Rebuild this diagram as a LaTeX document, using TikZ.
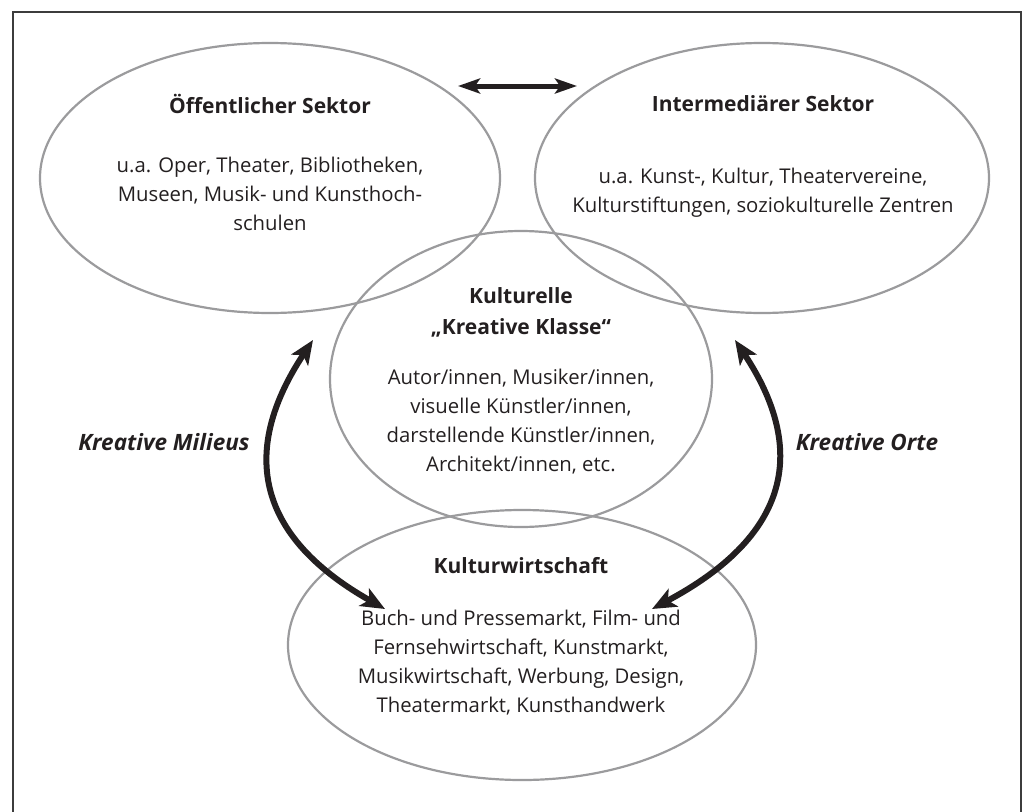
\documentclass[tikz,border=0pt]{standalone}
\usepackage{fontspec}
\setmainfont{Open Sans}
\usetikzlibrary{shapes.geometric,arrows.meta}
\definecolor{ink}{HTML}{231F20}
\definecolor{ring}{HTML}{9B9B9D}
\definecolor{rim}{HTML}{3C3C3C}
\begin{document}
\begin{tikzpicture}[x=1pt,y=-1pt,
  sector/.style={ellipse, draw=ring, line width=2.2pt, inner sep=0pt},
  head/.style={font=\fontsize{21}{31}\selectfont\bfseries, text=ink, align=center},
  body/.style={font=\fontsize{20.3}{29}\selectfont, text=ink, align=center},
  side/.style={font=\fontsize{22.5}{29}\selectfont\bfseries\itshape, text=ink},
  flow/.style={draw=ink, line width=6pt,
    {Stealth[length=24pt,width=20pt,inset=6pt]}-{Stealth[length=24pt,width=20pt,inset=6pt]}},
  link/.style={draw=ink, line width=5pt,
    {Stealth[length=22pt,width=15pt,inset=5pt]}-{Stealth[length=22pt,width=15pt,inset=5pt]}},
]
\useasboundingbox (0,0) rectangle (1033,811);
% outer frame, open at the bottom
\draw[rim, line width=1.6pt] (13,830) -- (13,12) -- (1021,12) -- (1021,830);

% the four fields
\node[sector, minimum width=460pt, minimum height=270pt] (pub) at (270,178) {};
\node[sector, minimum width=454pt, minimum height=270pt] (mid) at (762,178) {};
\node[sector, minimum width=382pt, minimum height=296pt] (cls) at (521,379) {};
\node[sector, minimum width=468pt, minimum height=270pt] (eco) at (522,645) {};

% public sector
\node[head] (pubT) at (270,104) {Öffentlicher Sektor};
\node[body] (pubB) at (270,194) {u.a. Oper, Theater, Bibliotheken,\\Museen, Musik- und Kunsthoch-\\schulen};

% intermediary sector
\node[head] (midT) at (763,104) {Intermediärer Sektor};
\node[body] (midB) at (763,193) {u.a. Kunst-, Kultur, Theatervereine,\\Kulturstiftungen, soziokulturelle Zentren};

% creative class
\node[head] (clsT) at (521,312) {Kulturelle\\„Kreative Klasse“};
\node[body] (clsB) at (521,422) {Autor/innen, Musiker/innen,\\visuelle Künstler/innen,\\darstellende Künstler/innen,\\Architekt/innen, etc.};

% cultural economy
\node[head] (ecoT) at (521,566) {Kulturwirtschaft};
\node[body] (ecoB) at (521,663) {Buch- und Pressemarkt, Film- und\\Fernsehwirtschaft, Kunstmarkt,\\Musikwirtschaft, Werbung, Design,\\Theatermarkt, Kunsthandwerk};

% side labels
\node[side] (milieu) at (164,442) {Kreative Milieus};
\node[side] (orte) at (867,442) {Kreative Orte};

% arrow end points
\coordinate (pubR) at (458,86);
\coordinate (midL) at (577,86);
\coordinate (mTop) at (313,340);
\coordinate (mBot) at (385,609);
\coordinate (oTop) at (735,340);
\coordinate (oBot) at (652,609);

% connectors
\draw[link] (pubR) -- (midL);
\draw[flow] (mTop) .. controls (250,435) and (240,527) .. (mBot);
\draw[flow] (oTop) .. controls (798,435) and (806,527) .. (oBot);
\end{tikzpicture}
\end{document}
